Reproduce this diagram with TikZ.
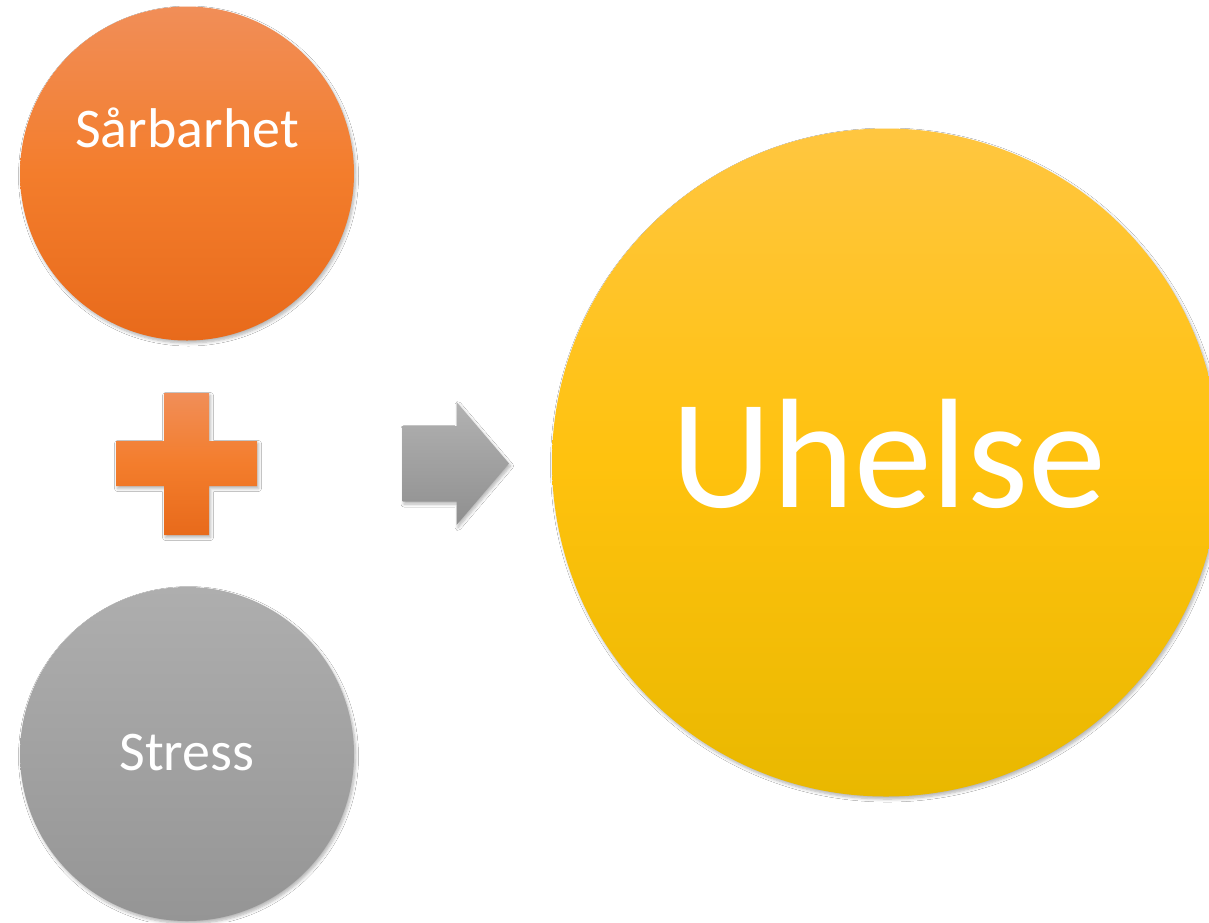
\documentclass[tikz,border=0pt]{standalone}
\usepackage{fontspec}
\setmainfont{Carlito}
\usetikzlibrary{shadows.blur}
\definecolor{orTop}{HTML}{F18E58}
\definecolor{orBot}{HTML}{E86A1B}
\definecolor{orMid}{HTML}{F37D2C}
\definecolor{grTop}{HTML}{AEAEAE}
\definecolor{grBot}{HTML}{959595}
\definecolor{yeTop}{HTML}{FFC640}
\definecolor{yeMid}{HTML}{FFC20E}
\definecolor{yeBot}{HTML}{E9B800}
\definecolor{arTop}{HTML}{B2B2B2}
\definecolor{arBot}{HTML}{8F8F8F}
\tikzset{
  softshadow/.style={blur shadow={shadow xshift=1.5pt, shadow yshift=-2.5pt, shadow blur steps=6, shadow blur radius=3pt, shadow opacity=30}},
  ballorange/.style={circle, minimum size=334pt, inner sep=0pt, top color=orTop, bottom color=orBot, middle color=orMid, draw=none, softshadow},
  ballgray/.style={circle, minimum size=334pt, inner sep=0pt, top color=grTop, bottom color=grBot, draw=none, softshadow},
  ballyellow/.style={circle, minimum size=668pt, inner sep=0pt, top color=yeTop, bottom color=yeBot, middle color=yeMid, draw=none, softshadow},
  lbl/.style={text=white, inner sep=0pt, anchor=base},
}
\begin{document}
\begin{tikzpicture}[x=1pt, y=-1pt]
\useasboundingbox (0,0) rectangle (1209,922);
\clip (0,0) rectangle (1209,922);
\fill[white] (0,0) rectangle (1209,922);
% circles
\node[ballorange] (sar) at (187,173.5) {};
\node[ballgray] (str) at (187,754) {};
\node[ballyellow] (uhe) at (886,462.5) {};
% texts
\node[lbl, font=\fontsize{56}{60}\selectfont] (sartext) at (187,147) {Sårbarhet};
\node[lbl, font=\fontsize{56}{60}\selectfont] (strtext) at (187,770) {Stress};
\node[lbl, font=\fontsize{156}{170}\selectfont] (uhetext) at (889,507) {Uhelse};
% plus sign
\path[top color=orTop, bottom color=orBot, middle color=orMid, softshadow]
  (164,393) -- (209,393) -- (209,441) -- (257,441) -- (257,486) -- (209,486)
  -- (209,535) -- (164,535) -- (164,486) -- (116,486) -- (116,441) -- (164,441) -- cycle;
% arrow
\path[top color=arTop, bottom color=arBot, softshadow]
  (402.5,426) -- (456.5,426) -- (456.5,402) -- (509,463.5) -- (456.5,525)
  -- (456.5,501.5) -- (402.5,501.5) -- cycle;
\end{tikzpicture}
\end{document}
